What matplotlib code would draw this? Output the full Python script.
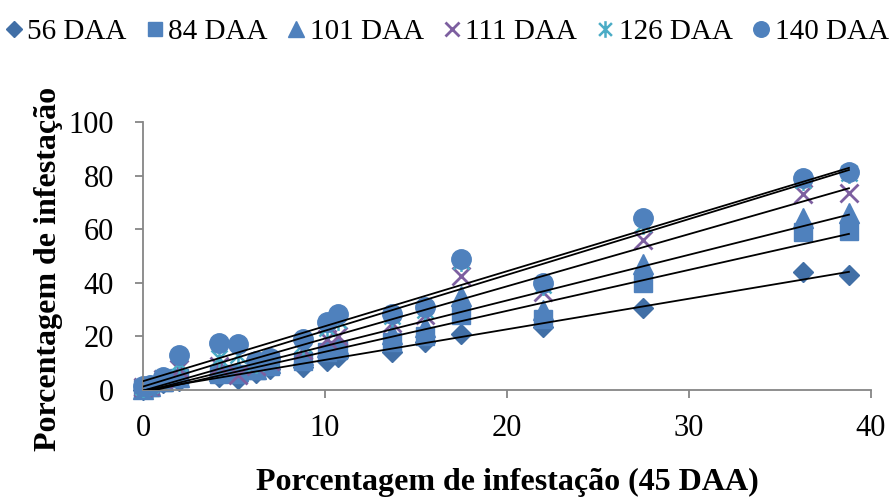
import numpy as np
import matplotlib.pyplot as plt
from matplotlib.path import Path

plt.rcParams['font.family'] = ['Liberation Serif', 'DejaVu Serif']

# infestação aos 45 DAA (eixo x)
x45 = [0, 0.4, 1.1, 2.0, 4.2, 5.2, 6.2, 7.0, 8.8, 10.1, 10.7,
       13.7, 15.5, 17.5, 22.0, 27.5, 36.3, 38.8]

daa56 = [0, 0.5, 2.5, 3.5, 5, 4, 6.5, 8, 8.5, 11, 12.5,
         14, 18, 21, 23.5, 30.5, 44, 43]
daa84 = [0.5, 1, 3, 4.5, 6, 6, 7.5, 9, 11, 14, 15,
         18, 20, 28, 26.5, 40, 59, 59.5]
daa101 = [0.5, 1.5, 3.5, 5, 7, 7, 8, 10, 13, 16, 17,
          21, 23.5, 35, 30, 47, 64, 66]
daa111 = [1, 1.5, 4, 8, 9, 5.5, 9, 11, 15, 19, 20,
          25, 28, 42.5, 36.5, 56, 73, 73.5]
daa126 = [1, 2, 4.5, 10, 12, 13, 10, 11.5, 17, 23, 26,
          27.5, 30, 48, 39, 62, 78.5, 81]
daa140 = [1.5, 2, 5, 13, 17.5, 17, 11, 12, 19, 25.5, 28.5,
          28.5, 31, 49, 40, 64, 79, 81.5]

labels = ['56 DAA', '84 DAA', '101 DAA', '111 DAA', '126 DAA', '140 DAA']
series = [daa56, daa84, daa101, daa111, daa126, daa140]

# asterisco estilo Excel: x + barra vertical
star = Path([(-1, -1), (1, 1), (-1, 1), (1, -1), (0, -1.3), (0, 1.3)],
            [Path.MOVETO, Path.LINETO, Path.MOVETO, Path.LINETO,
             Path.MOVETO, Path.LINETO])

estilos = [
    dict(marker='D', ms=10, color='#416FA6'),
    dict(marker='s', ms=13, color='#4F81BD'),
    dict(marker='^', ms=14, color='#4F81BD'),
    dict(marker='x', ms=13, color='#7D5FA0', mew=2),
    dict(marker=star, ms=15, color='#4BACC6', mfc='none', mew=1.8),
    dict(marker='o', ms=14, color='#4F81BD'),
]

fig = plt.figure(figsize=(8.94, 4.99), dpi=100)
ax = fig.add_axes([0.16, 0.2184, 0.814, 0.5371])

x = np.array(x45)
for y, lab, st in zip(series, labels, estilos):
    ax.plot(x, y, linestyle='none', label=lab, clip_on=False, **st)

# linhas de tendência lineares
xs = np.array([x.min(), x.max()])
for y in series:
    a, b = np.polyfit(x, y, 1)
    ax.plot(xs, a * xs + b, color='black', lw=1.3, zorder=5)

ax.set_xlim(0, 40)
ax.set_ylim(0, 100)
ax.set_xticks([0, 10, 20, 30, 40])
ax.set_yticks([0, 20, 40, 60, 80, 100])
for s in ['top', 'right']:
    ax.spines[s].set_visible(False)
for s in ['left', 'bottom']:
    ax.spines[s].set_color('#868686')
    ax.spines[s].set_linewidth(1.3)
ax.tick_params(colors='#868686', width=1.3, length=6, labelsize=22,
               labelcolor='black')
ax.tick_params(axis='x', pad=11)
ax.tick_params(axis='y', pad=15)

ax.set_xlabel('Porcentagem de infestação (45 DAA)', fontsize=23,
              fontweight='bold', labelpad=18)
ax.set_ylabel('Porcentagem de infestação', fontsize=23, fontweight='bold')
ax.yaxis.set_label_coords(-0.11, 0.45)

fig.legend(loc='upper center', bbox_to_anchor=(0.5, 1.0), ncol=6,
           frameon=False, fontsize=21, handlelength=0.55, handletextpad=0.2,
           columnspacing=0.68, borderaxespad=0.25, markerscale=0.8)

fig.savefig('out.png', dpi=100)
